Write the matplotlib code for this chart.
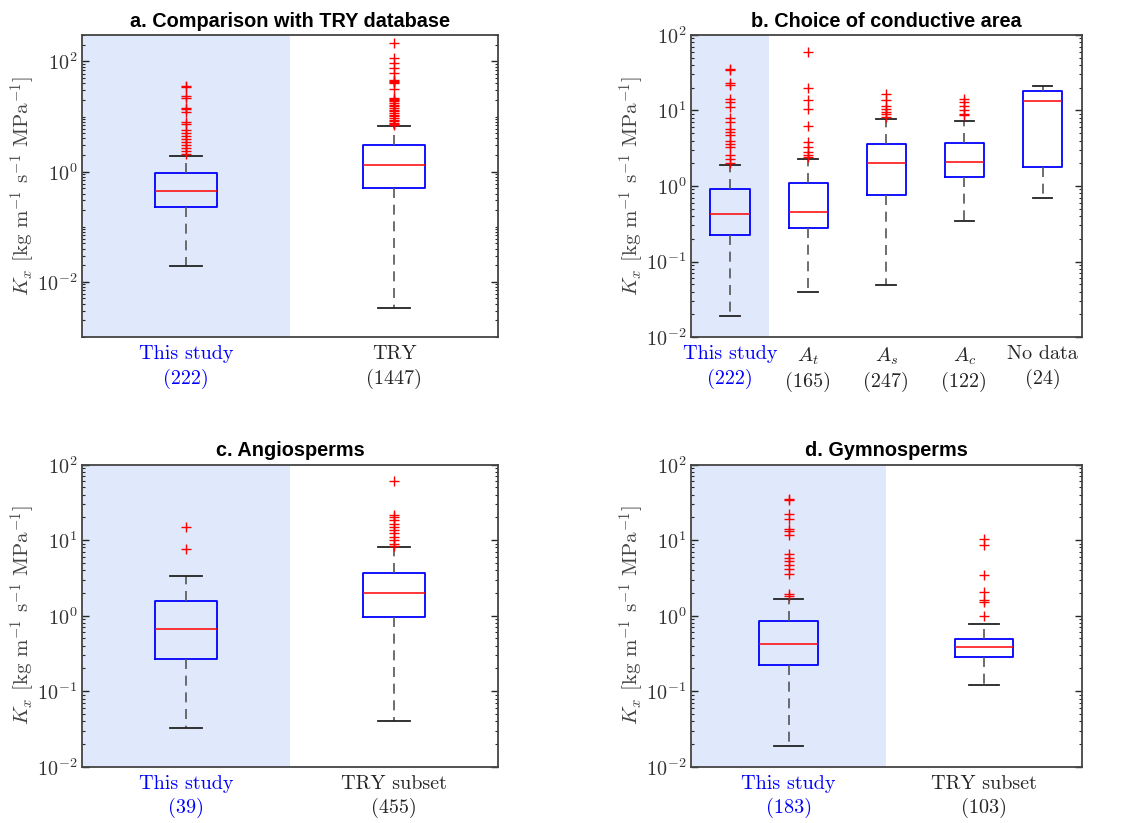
import numpy as np
import matplotlib.pyplot as plt
from matplotlib.ticker import LogLocator, FixedLocator, NullFormatter

plt.rcParams['font.family'] = 'serif'
plt.rcParams['font.serif'] = ['cmr10']
plt.rcParams['mathtext.fontset'] = 'cm'
plt.rcParams['axes.formatter.use_mathtext'] = True

# ---- data (box statistics, K_x in kg m-1 s-1 MPa-1) ----
# a. comparison with TRY
a_labels = ['This study\n(222)', 'TRY\n(1447)']
a_med = [0.45, 1.32]
a_q1 = [0.233, 0.51]
a_q3 = [0.93, 3.0]
a_lo = [0.0195, 0.0034]
a_hi = [1.95, 6.7]
a_fliers = [
    [36, 34, 24, 22, 14.5, 13.5, 12.3, 8.1, 7.2, 5.8, 5.1, 4.35, 3.85, 3.4, 3.0, 2.65, 2.33, 2.1],
    [214, 115, 93, 76, 61, 47, 45, 43, 40, 31, 22, 21, 20, 19, 17.7, 16.5, 15.4, 14.4,
     13.4, 12.5, 11.6, 10.8, 10.1, 9.4, 8.8, 8.2, 7.7, 7.3, 6.9],
]

# b. choice of conductive area
b_labels = ['This study\n(222)', '$A_t$\n(165)', '$A_s$\n(247)', '$A_c$\n(122)', 'No data\n(24)']
b_med = [0.43, 0.45, 2.04, 2.06, 13.2]
b_q1 = [0.224, 0.28, 0.757, 1.32, 1.79]
b_q3 = [0.9, 1.11, 3.56, 3.75, 18.0]
b_lo = [0.0187, 0.039, 0.049, 0.347, 0.684]
b_hi = [1.88, 2.26, 7.8, 7.2, 20.8]
b_fliers = [
    [35, 34, 23, 22, 14.3, 12.9, 11.0, 8.0, 7.1, 5.7, 5.2, 4.7, 4.0, 3.6, 3.3, 2.6, 2.25, 2.0],
    [59, 20, 13.6, 10.6, 6.3, 3.84, 3.3, 2.8, 2.6, 2.4],
    [16.3, 13.6, 11.3, 10.6, 9.6, 9.0, 8.3],
    [14.3, 12.9, 11.3, 10.0, 9.1, 8.7],
    [],
]

# c. angiosperms
c_labels = ['This study\n(39)', 'TRY subset\n(455)']
c_med = [0.67, 2.0]
c_q1 = [0.266, 0.966]
c_q3 = [1.57, 3.72]
c_lo = [0.0325, 0.040]
c_hi = [3.37, 8.0]
c_fliers = [
    [15, 7.7],
    [60, 21.4, 20.4, 18.4, 16.6, 15, 13.6, 12.3, 11.0, 10.0, 9.0, 8.3],
]

# d. gymnosperms
d_labels = ['This study\n(183)', 'TRY subset\n(103)']
d_med = [0.42, 0.39]
d_q1 = [0.22, 0.288]
d_q3 = [0.84, 0.494]
d_lo = [0.019, 0.12]
d_hi = [1.65, 0.78]
d_fliers = [
    [35, 34, 22, 19, 14.2, 13.2, 11.6, 6.5, 5.8, 5.3, 4.7, 4.2, 3.6, 1.96, 1.83],
    [10.5, 8.6, 3.5, 2.07, 1.6, 1.5, 1.0],
]

ylab = r'$K_x$ [kg m$^{-1}$ s$^{-1}$ MPa$^{-1}$]'
shade = '#dfe9fb'
grey = '#262626'


def panel(ax, title, labels, med, q1, q3, lo, hi, fliers, width, ylim, majors):
    stats = []
    for i in range(len(med)):
        stats.append(dict(med=med[i], q1=q1[i], q3=q3[i], whislo=lo[i],
                          whishi=hi[i], fliers=fliers[i]))
    n = len(stats)
    ax.axvspan(0.5, 1.5, color=shade, lw=0, zorder=0)
    ax.bxp(stats, positions=np.arange(1, n + 1), widths=width,
           showfliers=True, capwidths=width / 2,
           boxprops=dict(color='#0000ff', lw=1.3),
           medianprops=dict(color='#ff0000', lw=1.1),
           whiskerprops=dict(color='#555555', lw=1.2, linestyle=(0, (6, 4))),
           capprops=dict(color='#222222', lw=1.3),
           flierprops=dict(marker='+', markeredgecolor='#ff0000', markersize=7,
                           markeredgewidth=1.0, linestyle='none'))
    ax.set_yscale('log')
    ax.set_ylim(*ylim)
    ax.set_xlim(0.5, n + 0.5)
    ax.yaxis.set_major_locator(FixedLocator(majors))
    ax.yaxis.set_minor_locator(LogLocator(base=10, subs=np.arange(1, 10), numticks=50))
    ax.yaxis.set_minor_formatter(NullFormatter())
    ax.set_xticks(np.arange(1, n + 1))
    ax.set_xticklabels(labels, fontsize=14.5, linespacing=1.35)
    for k, t in enumerate(ax.get_xticklabels()):
        t.set_color('#0000ff' if k == 0 else grey)
    ax.tick_params(axis='x', length=0, pad=6)
    ax.tick_params(axis='y', which='major', direction='in', length=5, right=True,
                   labelsize=14.5, colors=grey, labelcolor='#333333', width=1)
    ax.tick_params(axis='y', which='minor', direction='in', length=2.5, right=True,
                   colors=grey, width=0.8)
    for s in ax.spines.values():
        s.set_color('#444444')
        s.set_linewidth(1.3)
    ax.set_ylabel(ylab, fontsize=15, color='#444444', labelpad=0)
    ax.set_title(title, fontsize=14.3, fontweight='bold', family='Liberation Sans', pad=6)


fig = plt.figure(figsize=(11.29, 8.23), dpi=100)
axa = fig.add_axes([0.0726, 0.5905, 0.3685, 0.367])
axb = fig.add_axes([0.612, 0.5905, 0.346, 0.367])
axc = fig.add_axes([0.0726, 0.0684, 0.3685, 0.367])
axd = fig.add_axes([0.612, 0.0684, 0.346, 0.367])

panel(axa, 'a. Comparison with TRY database', a_labels, a_med, a_q1, a_q3, a_lo, a_hi,
      a_fliers, 0.3, (1e-3, 10 ** 2.48), [1e-2, 1, 1e2])
panel(axb, 'b. Choice of conductive area', b_labels, b_med, b_q1, b_q3, b_lo, b_hi,
      b_fliers, 0.5, (1e-2, 1e2), [1e-2, 1e-1, 1, 1e1, 1e2])
panel(axc, 'c. Angiosperms', c_labels, c_med, c_q1, c_q3, c_lo, c_hi,
      c_fliers, 0.3, (1e-2, 1e2), [1e-2, 1e-1, 1, 1e1, 1e2])
panel(axd, 'd. Gymnosperms', d_labels, d_med, d_q1, d_q3, d_lo, d_hi,
      d_fliers, 0.3, (1e-2, 1e2), [1e-2, 1e-1, 1, 1e1, 1e2])

fig.savefig('out.png', dpi=100)
